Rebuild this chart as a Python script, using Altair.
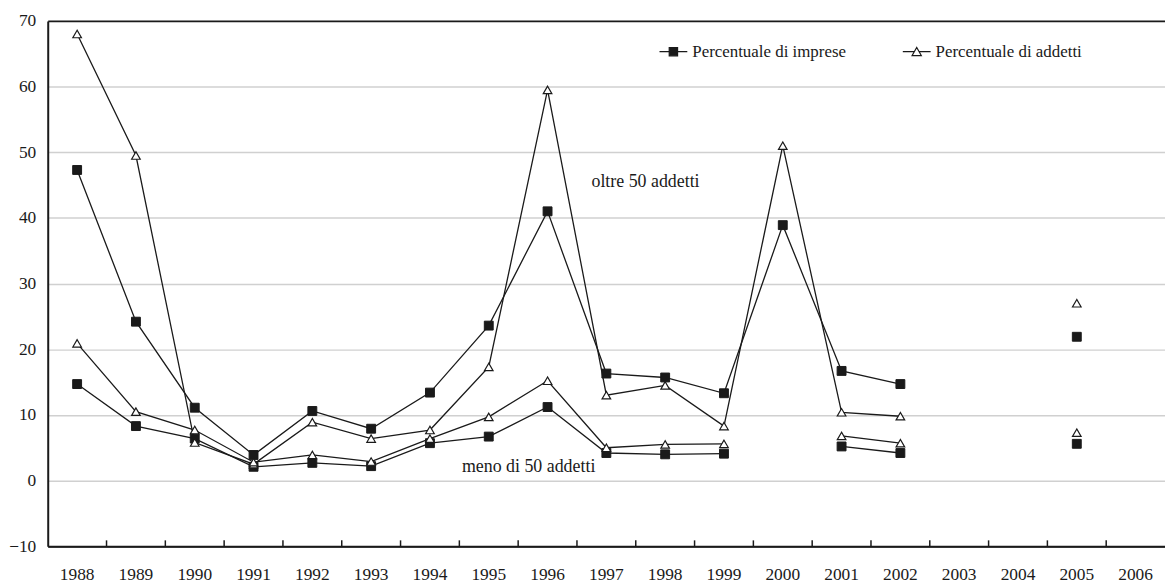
import altair as alt
import pandas as pd

years = [str(y) for y in range(1988, 2007)]

oltre_imprese = [47.3, 24.2, 11.1, 3.9, 10.6, 7.9, 13.4, 23.6, 41.0, 16.3, 15.7, 13.3, 38.9, 16.7, 14.7, None, None, 21.9, None]
oltre_addetti = [68.0, 49.5, 5.8, 2.5, 8.9, 6.4, 7.7, 17.3, 59.5, 13.0, 14.5, 8.3, 51.0, 10.4, 9.8, None, None, 27.0, None]
meno_imprese = [14.7, 8.3, 6.4, 2.1, 2.7, 2.2, 5.7, 6.7, 11.2, 4.2, 4.0, 4.1, None, 5.2, 4.2, None, None, 5.6, None]
meno_addetti = [20.9, 10.5, 7.7, 2.8, 3.9, 2.9, 6.4, 9.7, 15.2, 5.0, 5.5, 5.6, None, 6.8, 5.7, None, None, 7.3, None]

measures = ["Percentuale di imprese", "Percentuale di addetti"]
series = [
    ("oltre", measures[0], oltre_imprese),
    ("oltre", measures[1], oltre_addetti),
    ("meno", measures[0], meno_imprese),
    ("meno", measures[1], meno_addetti),
]

ann_text = ["oltre 50 addetti", "meno di 50 addetti"]
ann_year = ["1997", "1995"]
ann_value = [45.5, 2.0]

y_ticks = list(range(-10, 71, 10))

rows = []
for grp, meas, vals in series:
    seg = 0
    prev_none = True
    for yr, v in zip(years, vals):
        if v is None:
            prev_none = True
            continue
        if prev_none:
            seg += 1
        prev_none = False
        rows.append({"anno": yr, "valore": v, "misura": meas,
                     "serie": f"{grp}-{meas}-{seg}"})
df = pd.DataFrame(rows)

FONT = "Liberation Serif"
INK = "#1a1a1a"

x_scale = alt.Scale(type="band", domain=years, paddingInner=0, paddingOuter=0)
y_scale = alt.Scale(domain=[-10, 70], nice=False, zero=False)

x_axis = alt.Axis(title=None, labelAngle=0, ticks=False, grid=False,
                  domainColor=INK, domainWidth=2, labelFont=FONT,
                  labelFontSize=17.5, labelColor=INK, labelPadding=19, zindex=1)
y_axis = alt.Axis(title=None, values=y_ticks, ticks=False, domainColor=INK,
                  domainWidth=2, labelFont=FONT, labelFontSize=17.5,
                  labelColor=INK, labelPadding=12, grid=True,
                  gridColor={"condition": {"test": "datum.value === 70 || datum.value === -10", "value": INK}, "value": "#d0d0d0"},
                  gridWidth={"condition": {"test": "datum.value === 70", "value": 1.6}, "value": 1.5})

X = alt.X("anno:O", scale=x_scale, axis=x_axis, bandPosition=0.5)
Y = alt.Y("valore:Q", scale=y_scale, axis=y_axis)

# legend glyphs "—■—" and "—△—" (unit coordinates)
PATH_SQ = "M-1,0H1M-0.3,-0.3H0.3V0.3H-0.3Z"
PATH_TRI = "M-1,0H-0.19M0.19,0H1M-0.33,0.28L0,-0.3L0.33,0.28Z"


def legend_for(x, path, fill):
    return alt.Legend(
        title=None, orient="none", legendX=x, legendY=16, direction="horizontal",
        symbolType=path, symbolSize=784, symbolFillColor=fill,
        symbolStrokeColor=INK, symbolStrokeWidth=1.2, symbolOpacity=1,
        labelFont=FONT, labelFontSize=17, labelColor=INK, labelOffset=4,
    )


df_imp = df[df["misura"] == measures[0]]
df_add = df[df["misura"] == measures[1]]

lines_imp = alt.Chart(df_imp).mark_line(color=INK, strokeWidth=1.3).encode(
    x=X, y=Y, detail="serie:N",
    opacity=alt.Opacity("misura:N", scale=alt.Scale(domain=[measures[0]], range=[1]),
                        legend=legend_for(615, PATH_SQ, INK)),
)
lines_add = alt.Chart(df_add).mark_line(color=INK, strokeWidth=1.3).encode(
    x=X, y=Y, detail="serie:N",
    opacity=alt.Opacity("misura:N", scale=alt.Scale(domain=[measures[1]], range=[1]),
                        legend=legend_for(860, PATH_TRI, "white")),
)

pts_imp = alt.Chart(df_imp).mark_point(
    shape="square", filled=True, fill=INK, stroke=INK, strokeWidth=1, size=80, opacity=1
).encode(x=X, y=Y)

pts_add = alt.Chart(df_add).mark_point(
    shape="triangle-up", filled=True, fill="white", stroke=INK, strokeWidth=1.2, size=75, opacity=1
).encode(x=X, y=Y)

tick_df = pd.DataFrame({"anno": years[1:]})
ticks = alt.Chart(tick_df).mark_rule(color=INK, strokeWidth=1.5).encode(
    x=alt.X("anno:O", scale=x_scale, axis=x_axis, bandPosition=0),
    y=alt.datum(-10),
    y2=alt.datum(-9.1),
)

ann_df = pd.DataFrame({"testo": ann_text, "anno": ann_year, "valore": ann_value})
ann1 = alt.Chart(ann_df.iloc[[0]]).mark_text(font=FONT, fontSize=18, color=INK, align="left", baseline="middle", dx=-15).encode(
    x=X, y=Y, text="testo:N")
ann2 = alt.Chart(ann_df.iloc[[1]]).mark_text(font=FONT, fontSize=18, color=INK, align="left", baseline="middle", dx=-27).encode(
    x=X, y=Y, text="testo:N")

chart = alt.layer(lines_imp, lines_add, ticks, pts_imp, pts_add, ann1, ann2).resolve_scale(
    opacity="independent"
).properties(
    width=1125, height=529,
    autosize=alt.AutoSizeParams(type="none"),
    padding={"left": 40, "top": 11, "right": 0, "bottom": 35},
).configure_view(strokeWidth=0).configure(background="white")

chart.save("out.html", embed_options={"renderer": "svg", "actions": False})
